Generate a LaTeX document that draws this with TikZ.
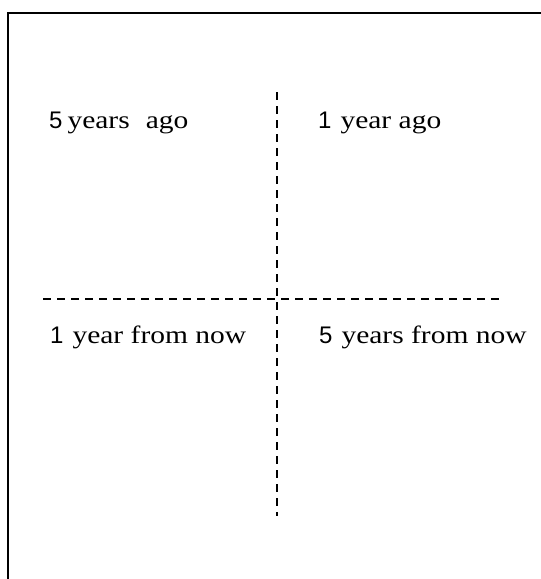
\documentclass[tikz,border=0pt]{standalone}
\usepackage{fontspec}
\setmainfont[FakeStretch=1.18]{Liberation Serif}
\newfontfamily\digitfont{Liberation Sans}
\usepackage{tikz}
\usetikzlibrary{positioning}
\tikzstyle{when} = [anchor=base west, inner sep=0pt, font=\fontsize{25}{29}\selectfont]
\tikzstyle{split} = [line width=1.4pt, dash pattern=on 8pt off 6pt]
\tikzstyle{frame} = [line width=1.6pt]
\newcommand{\num}[1]{{\digitfont\fontsize{24}{28}\selectfont #1}}

\begin{document}
\begin{tikzpicture}[x=1pt, y=-1pt]
  \useasboundingbox (0,0) rectangle (541,579);
  % outer frame, runs off the page on the right and bottom
  \draw[frame] (8,600) -- (8,13) -- (580,13);
  % the four periods
  \node[when] (fiveago) at (49,128) {\num{5}\hspace{5pt}years\hspace{16pt}ago};
  \node[when] (oneago) at (318,128) {\num{1}\hspace{9pt}year ago};
  \node[when] (onefut) at (50,343) {\num{1}\hspace{9pt}year from now};
  \node[when] (fivefut) at (319,343) {\num{5}\hspace{9pt}years from now};
  % dashed cross
  \coordinate (vtop) at (277,92);
  \coordinate (vbot) at (277,516);
  \coordinate (hleft) at (43,299);
  \coordinate (hright) at (501,299);
  \draw[split] (vtop) -- (vbot);
  \draw[split] (hleft) -- (hright);
\end{tikzpicture}
\end{document}
